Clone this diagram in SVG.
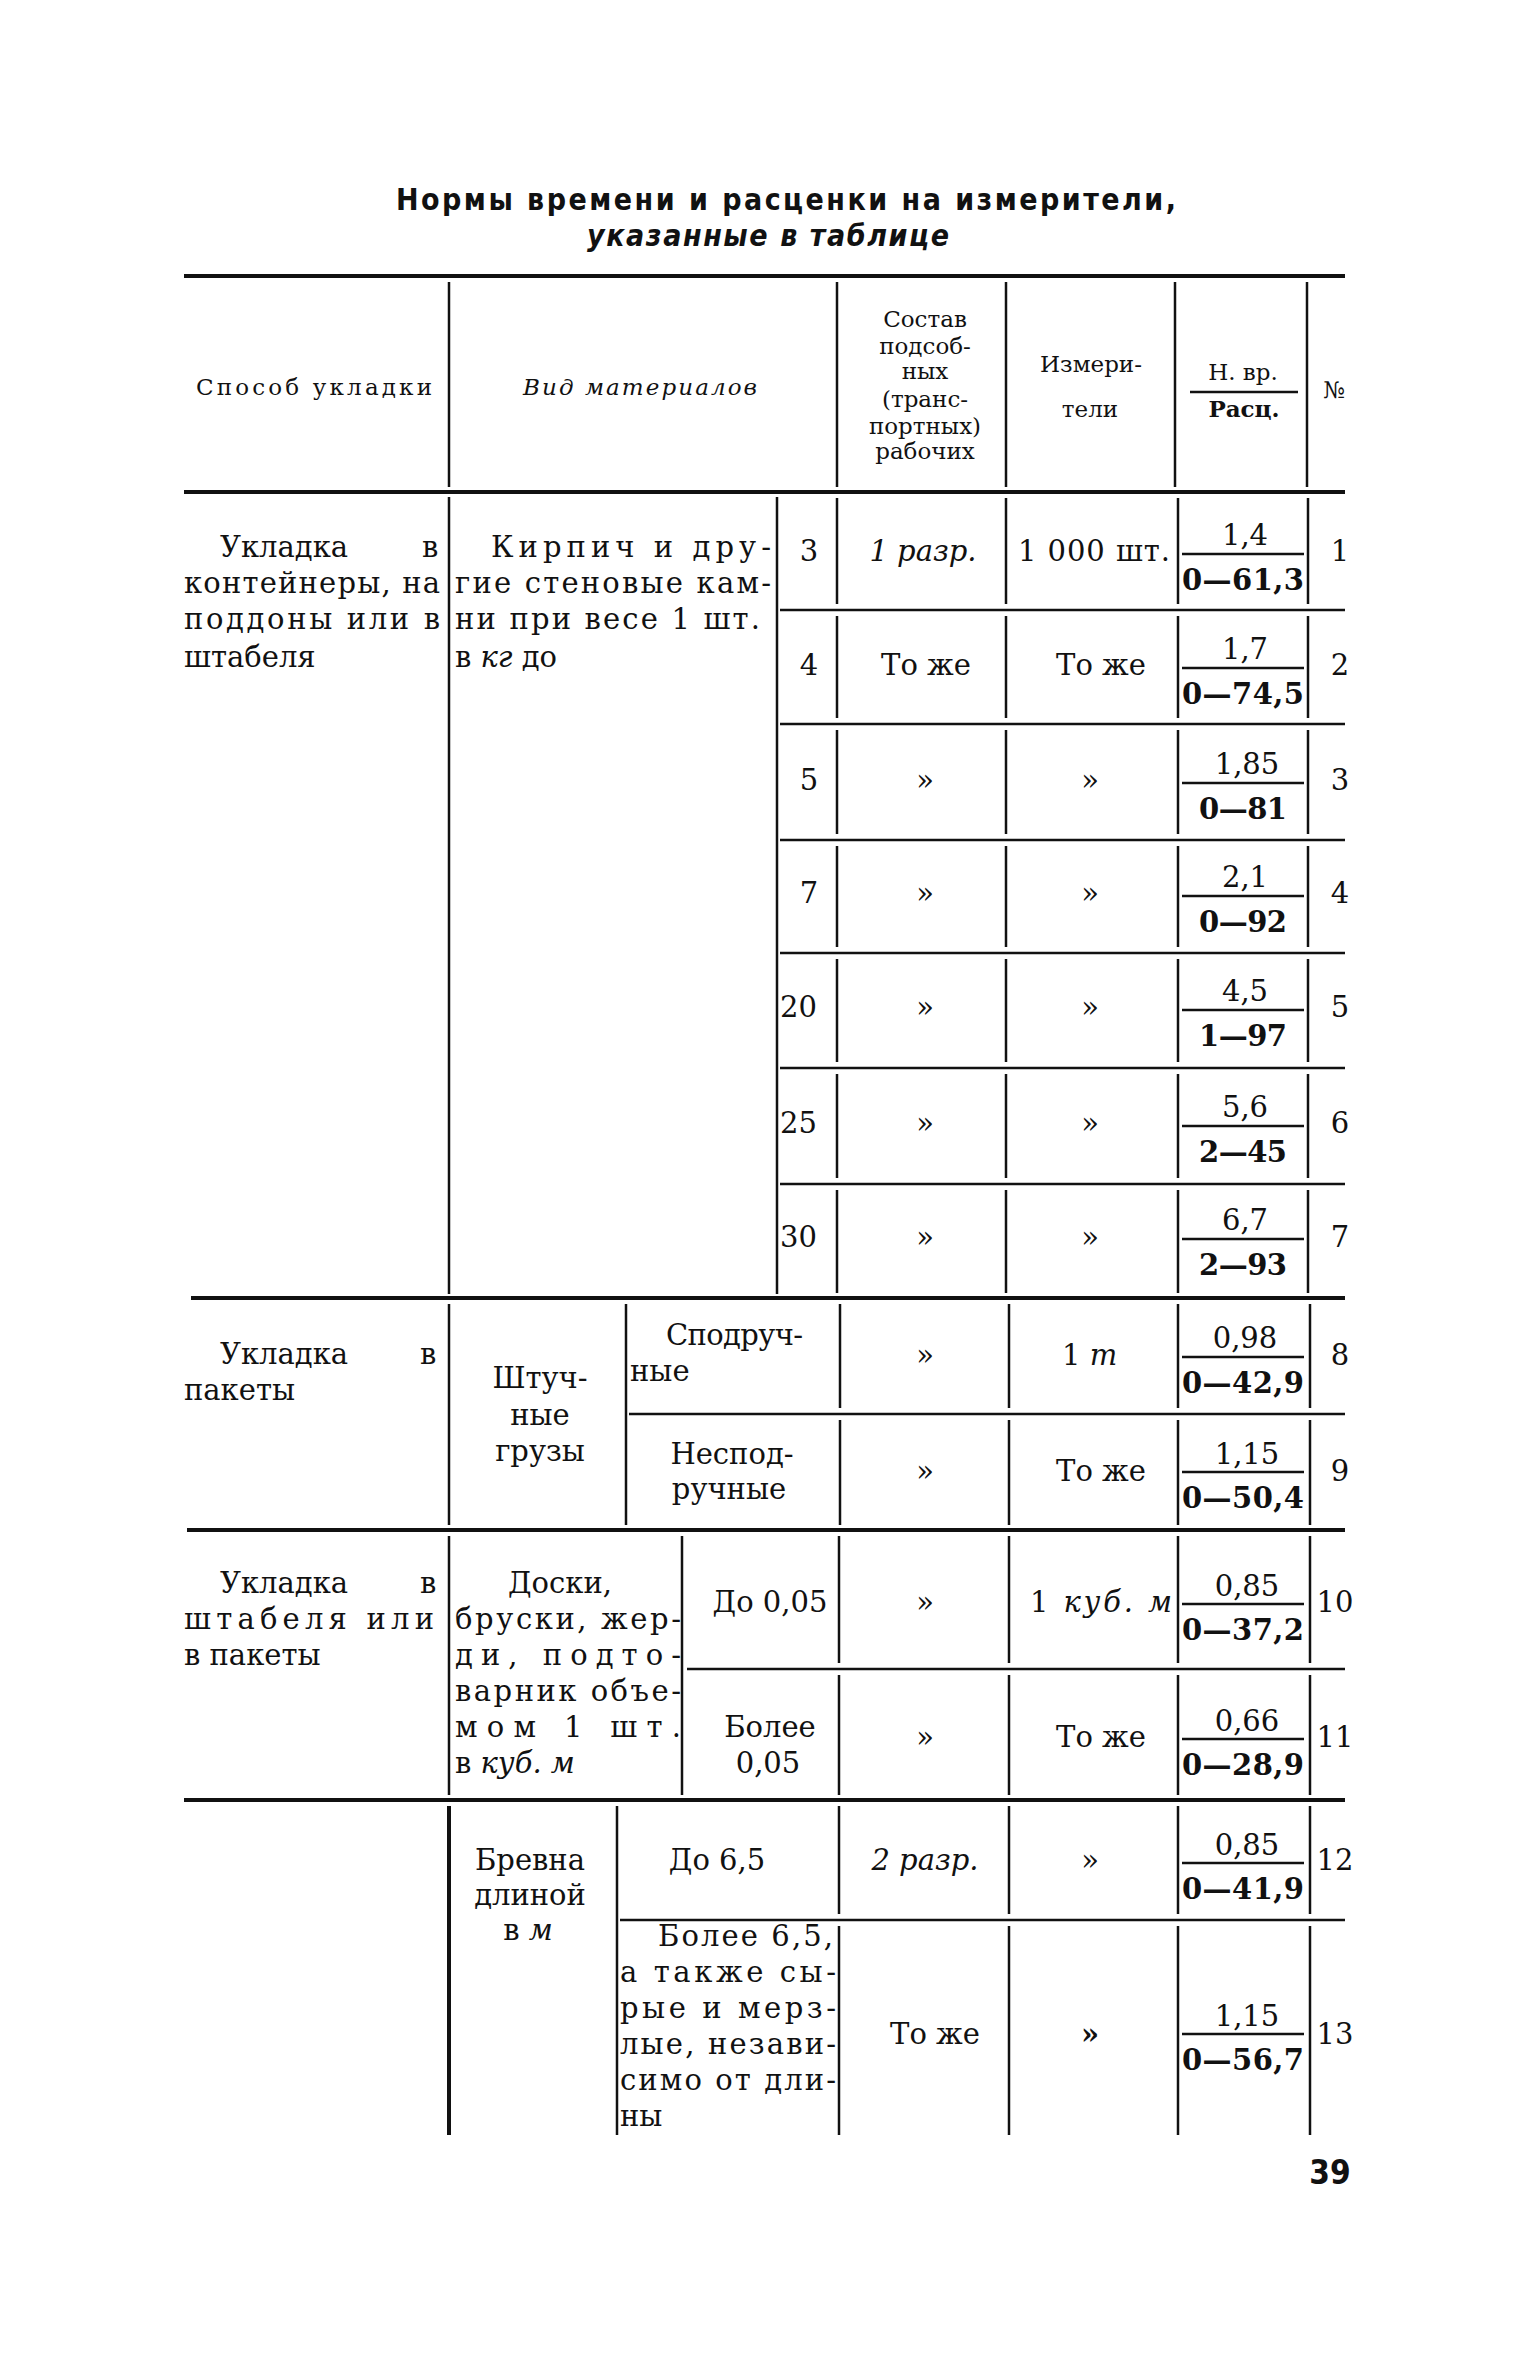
<svg xmlns="http://www.w3.org/2000/svg" width="1536" height="2361" viewBox="0 0 1536 2361">
<style>
text{font-family:"DejaVu Serif","Liberation Serif",serif;font-size:29px;fill:#111}
.h{font-size:23px}
.c{text-anchor:middle}
.i{font-style:italic}
.b{font-weight:bold}
.ttl{font-family:"DejaVu Sans Condensed","DejaVu Sans","Liberation Sans",sans-serif;font-stretch:condensed;font-weight:bold;font-size:30px}
.pg{font-size:33px}
line{stroke:#111;stroke-width:2.5}
.k{stroke-width:4}
.fr{stroke-width:2.5}
</style>
<rect width="1536" height="2361" fill="#fff"/>
<g id="title">
<text class="ttl c" x="786" y="210" textLength="780">Нормы времени и расценки на измерители,</text>
<text class="ttl c i" x="768" y="246" textLength="362">указанные в таблице</text>
</g>
<g id="connectors">
<line class="k" x1="184" y1="276" x2="1345" y2="276"/>
<line class="k" x1="184" y1="492" x2="1345" y2="492"/>
<line x1="449" y1="282" x2="449" y2="487"/>
<line x1="837" y1="282" x2="837" y2="487"/>
<line x1="1006" y1="282" x2="1006" y2="487"/>
<line x1="1175" y1="282" x2="1175" y2="487"/>
<line x1="1307" y1="282" x2="1307" y2="487"/>
<line x1="1190" y1="392" x2="1298" y2="392"/>
<line x1="449" y1="497" x2="449" y2="1294"/>
<line x1="777" y1="497" x2="777" y2="1294"/>
<line x1="780" y1="610" x2="1345" y2="610"/>
<line x1="780" y1="724" x2="1345" y2="724"/>
<line x1="780" y1="840" x2="1345" y2="840"/>
<line x1="780" y1="953" x2="1345" y2="953"/>
<line x1="780" y1="1068" x2="1345" y2="1068"/>
<line x1="780" y1="1184" x2="1345" y2="1184"/>
<line x1="837" y1="498" x2="837" y2="604"/><line x1="1006" y1="498" x2="1006" y2="604"/><line x1="1178" y1="498" x2="1178" y2="604"/><line x1="1308" y1="498" x2="1308" y2="604"/>
<line x1="837" y1="616" x2="837" y2="718"/><line x1="1006" y1="616" x2="1006" y2="718"/><line x1="1178" y1="616" x2="1178" y2="718"/><line x1="1308" y1="616" x2="1308" y2="718"/>
<line x1="837" y1="730" x2="837" y2="834"/><line x1="1006" y1="730" x2="1006" y2="834"/><line x1="1178" y1="730" x2="1178" y2="834"/><line x1="1308" y1="730" x2="1308" y2="834"/>
<line x1="837" y1="846" x2="837" y2="947"/><line x1="1006" y1="846" x2="1006" y2="947"/><line x1="1178" y1="846" x2="1178" y2="947"/><line x1="1308" y1="846" x2="1308" y2="947"/>
<line x1="837" y1="959" x2="837" y2="1062"/><line x1="1006" y1="959" x2="1006" y2="1062"/><line x1="1178" y1="959" x2="1178" y2="1062"/><line x1="1308" y1="959" x2="1308" y2="1062"/>
<line x1="837" y1="1074" x2="837" y2="1178"/><line x1="1006" y1="1074" x2="1006" y2="1178"/><line x1="1178" y1="1074" x2="1178" y2="1178"/><line x1="1308" y1="1074" x2="1308" y2="1178"/>
<line x1="837" y1="1190" x2="837" y2="1293"/><line x1="1006" y1="1190" x2="1006" y2="1293"/><line x1="1178" y1="1190" x2="1178" y2="1293"/><line x1="1308" y1="1190" x2="1308" y2="1293"/>
<line class="k" x1="191" y1="1298" x2="1345" y2="1298"/>
<line x1="449" y1="1304" x2="449" y2="1525"/>
<line x1="626" y1="1304" x2="626" y2="1525"/>
<line x1="629" y1="1414" x2="1345" y2="1414"/>
<line x1="840" y1="1304" x2="840" y2="1408"/><line x1="1009" y1="1304" x2="1009" y2="1408"/><line x1="1178" y1="1304" x2="1178" y2="1408"/><line x1="1310" y1="1304" x2="1310" y2="1408"/>
<line x1="840" y1="1420" x2="840" y2="1525"/><line x1="1009" y1="1420" x2="1009" y2="1525"/><line x1="1178" y1="1420" x2="1178" y2="1525"/><line x1="1310" y1="1420" x2="1310" y2="1525"/>
<line class="k" x1="187" y1="1530" x2="1345" y2="1530"/>
<line x1="449" y1="1536" x2="449" y2="1795"/>
<line x1="682" y1="1536" x2="682" y2="1795"/>
<line x1="687" y1="1669" x2="1345" y2="1669"/>
<line x1="839" y1="1536" x2="839" y2="1663"/><line x1="1009" y1="1536" x2="1009" y2="1663"/><line x1="1178" y1="1536" x2="1178" y2="1663"/><line x1="1310" y1="1536" x2="1310" y2="1663"/>
<line x1="839" y1="1675" x2="839" y2="1795"/><line x1="1009" y1="1675" x2="1009" y2="1795"/><line x1="1178" y1="1675" x2="1178" y2="1795"/><line x1="1310" y1="1675" x2="1310" y2="1795"/>
<line class="k" x1="184" y1="1800" x2="1345" y2="1800"/>
<line class="k" x1="449" y1="1806" x2="449" y2="2135"/>
<line x1="617" y1="1806" x2="617" y2="2135"/>
<line x1="620" y1="1920" x2="1345" y2="1920"/>
<line x1="839" y1="1806" x2="839" y2="1914"/><line x1="1009" y1="1806" x2="1009" y2="1914"/><line x1="1178" y1="1806" x2="1178" y2="1914"/><line x1="1310" y1="1806" x2="1310" y2="1914"/>
<line x1="839" y1="1926" x2="839" y2="2135"/><line x1="1009" y1="1926" x2="1009" y2="2135"/><line x1="1178" y1="1926" x2="1178" y2="2135"/><line x1="1310" y1="1926" x2="1310" y2="2135"/>
<line class="fr" x1="1182" y1="554" x2="1304" y2="554"/>
<line class="fr" x1="1182" y1="668" x2="1304" y2="668"/>
<line class="fr" x1="1182" y1="783" x2="1304" y2="783"/>
<line class="fr" x1="1182" y1="896" x2="1304" y2="896"/>
<line class="fr" x1="1182" y1="1010" x2="1304" y2="1010"/>
<line class="fr" x1="1182" y1="1126" x2="1304" y2="1126"/>
<line class="fr" x1="1182" y1="1239" x2="1304" y2="1239"/>
<line class="fr" x1="1182" y1="1357" x2="1304" y2="1357"/>
<line class="fr" x1="1182" y1="1472" x2="1304" y2="1472"/>
<line class="fr" x1="1182" y1="1604" x2="1304" y2="1604"/>
<line class="fr" x1="1182" y1="1739" x2="1304" y2="1739"/>
<line class="fr" x1="1182" y1="1863" x2="1304" y2="1863"/>
<line class="fr" x1="1182" y1="2034" x2="1304" y2="2034"/>
</g>
<g id="header">
<text class="h" x="196" y="395" textLength="236">Способ укладки</text>
<text class="h i" x="523" y="395" textLength="234">Вид материалов</text>
<text class="h c" x="925" y="327">Состав</text>
<text class="h c" x="925" y="354">подсоб-</text>
<text class="h c" x="925" y="379">ных</text>
<text class="h c" x="925" y="407">(транс-</text>
<text class="h c" x="925" y="434">портных)</text>
<text class="h c" x="925" y="459">рабочих</text>
<text class="h c" x="1091" y="372">Измери-</text>
<text class="h c" x="1090" y="417">тели</text>
<text class="h c" x="1243" y="380">Н. вр.</text>
<text class="h c b" x="1244" y="417">Расц.</text>
<text class="h c" x="1334" y="398">№</text>
</g>
<g id="section1">
<text x="220" y="557">Укладка</text><text x="422" y="557">в</text>
<text x="184" y="593" textLength="256">контейнеры, на</text>
<text x="184" y="629" textLength="256">поддоны или в</text>
<text x="184" y="667">штабеля</text>
<text x="491" y="557" textLength="280">Кирпич и дру-</text>
<text x="455" y="593" textLength="316">гие стеновые кам-</text>
<text x="455" y="629" textLength="305">ни при весе 1 шт.</text>
<text x="455" y="667">в <tspan class="i">кг</tspan> до</text>
</g>
<g id="row1"><text class="c" x="809" y="561">3</text><text class="c i" x="923" y="561">1 разр.</text><text x="1018" y="561" textLength="152">1 000 шт.</text><text class="c" x="1245" y="545">1,4</text><text class="c b" x="1243" y="590" textLength="122">0—61,3</text><text class="c" x="1340" y="561">1</text></g>
<g id="row2"><text class="c" x="809" y="675">4</text><text class="c" x="926" y="675">То же</text><text class="c" x="1101" y="675">То же</text><text class="c" x="1245" y="659">1,7</text><text class="c b" x="1243" y="704" textLength="122">0—74,5</text><text class="c" x="1340" y="675">2</text></g>
<g id="row3"><text class="c" x="809" y="790">5</text><text class="c" x="925" y="790">»</text><text class="c" x="1090" y="790">»</text><text class="c" x="1247" y="774">1,85</text><text class="c b" x="1243" y="819" textLength="88">0—81</text><text class="c" x="1340" y="790">3</text></g>
<g id="row4"><text class="c" x="809" y="903">7</text><text class="c" x="925" y="903">»</text><text class="c" x="1090" y="903">»</text><text class="c" x="1245" y="887">2,1</text><text class="c b" x="1243" y="932" textLength="88">0—92</text><text class="c" x="1340" y="903">4</text></g>
<g id="row5"><text x="780" y="1017">20</text><text class="c" x="925" y="1017">»</text><text class="c" x="1090" y="1017">»</text><text class="c" x="1245" y="1001">4,5</text><text class="c b" x="1243" y="1046" textLength="88">1—97</text><text class="c" x="1340" y="1017">5</text></g>
<g id="row6"><text x="780" y="1133">25</text><text class="c" x="925" y="1133">»</text><text class="c" x="1090" y="1133">»</text><text class="c" x="1245" y="1117">5,6</text><text class="c b" x="1243" y="1162" textLength="88">2—45</text><text class="c" x="1340" y="1133">6</text></g>
<g id="row7"><text x="780" y="1247">30</text><text class="c" x="925" y="1247">»</text><text class="c" x="1090" y="1247">»</text><text class="c" x="1245" y="1230">6,7</text><text class="c b" x="1243" y="1275" textLength="88">2—93</text><text class="c" x="1340" y="1247">7</text></g>
<g id="section2">
<text x="220" y="1364">Укладка</text><text x="420" y="1364">в</text>
<text x="184" y="1400">пакеты</text>
<text class="c" x="540" y="1388">Штуч-</text>
<text class="c" x="540" y="1425">ные</text>
<text class="c" x="540" y="1461">грузы</text>
</g>
<g id="row8"><text x="666" y="1345" textLength="137">Сподруч-</text><text x="630" y="1381">ные</text><text class="c" x="925" y="1365">»</text><text x="1062" y="1365">1 <tspan class="i">т</tspan></text><text class="c" x="1245" y="1348">0,98</text><text class="c b" x="1243" y="1393" textLength="122">0—42,9</text><text class="c" x="1340" y="1365">8</text></g>
<g id="row9"><text class="c" x="732" y="1464">Неспод-</text><text class="c" x="729" y="1499">ручные</text><text class="c" x="925" y="1481">»</text><text class="c" x="1101" y="1481">То же</text><text class="c" x="1247" y="1464">1,15</text><text class="c b" x="1243" y="1508" textLength="122">0—50,4</text><text class="c" x="1340" y="1481">9</text></g>
<g id="section3">
<text x="220" y="1593">Укладка</text><text x="420" y="1593">в</text>
<text x="184" y="1629" textLength="250">штабеля или</text>
<text x="184" y="1665">в пакеты</text>
<text class="c" x="560" y="1593">Доски,</text>
<text x="455" y="1629" textLength="226">бруски, жер-</text>
<text x="455" y="1665" textLength="226">ди, подто-</text>
<text x="455" y="1701" textLength="226">варник объе-</text>
<text x="455" y="1737" textLength="226">мом 1 шт.</text>
<text x="455" y="1773">в <tspan class="i">куб. м</tspan></text>
</g>
<g id="row10"><text class="c" x="770" y="1612">До 0,05</text><text class="c" x="925" y="1612">»</text><text x="1030" y="1612" textLength="142">1 <tspan class="i">куб. м</tspan></text><text class="c" x="1247" y="1596">0,85</text><text class="c b" x="1243" y="1640" textLength="122">0—37,2</text><text class="c" x="1335" y="1612">10</text></g>
<g id="row11"><text class="c" x="770" y="1737">Более</text><text class="c" x="768" y="1773">0,05</text><text class="c" x="925" y="1747">»</text><text class="c" x="1101" y="1747">То же</text><text class="c" x="1247" y="1731">0,66</text><text class="c b" x="1243" y="1775" textLength="122">0—28,9</text><text class="c" x="1335" y="1747">11</text></g>
<g id="section4">
<text class="c" x="530" y="1870">Бревна</text>
<text class="c" x="530" y="1905">длиной</text>
<text class="c" x="528" y="1940">в <tspan class="i">м</tspan></text>
</g>
<g id="row12"><text class="c" x="717" y="1870">До 6,5</text><text class="c i" x="925" y="1870">2 разр.</text><text class="c" x="1090" y="1870">»</text><text class="c" x="1247" y="1855">0,85</text><text class="c b" x="1243" y="1899" textLength="122">0—41,9</text><text class="c" x="1335" y="1870">12</text></g>
<g id="row13"><text x="658" y="1946" textLength="175">Более 6,5,</text><text x="620" y="1982" textLength="216">а также сы-</text><text x="620" y="2018" textLength="216">рые и мерз-</text><text x="620" y="2054" textLength="216">лые, незави-</text><text x="620" y="2090" textLength="216">симо от дли-</text><text x="620" y="2126">ны</text><text class="c" x="935" y="2044">То же</text><text class="c b" x="1090" y="2044">»</text><text class="c" x="1247" y="2026">1,15</text><text class="c b" x="1243" y="2070" textLength="122">0—56,7</text><text class="c" x="1335" y="2044">13</text></g>
<g id="page"><text class="ttl pg c" x="1330" y="2184">39</text></g>
</svg>
